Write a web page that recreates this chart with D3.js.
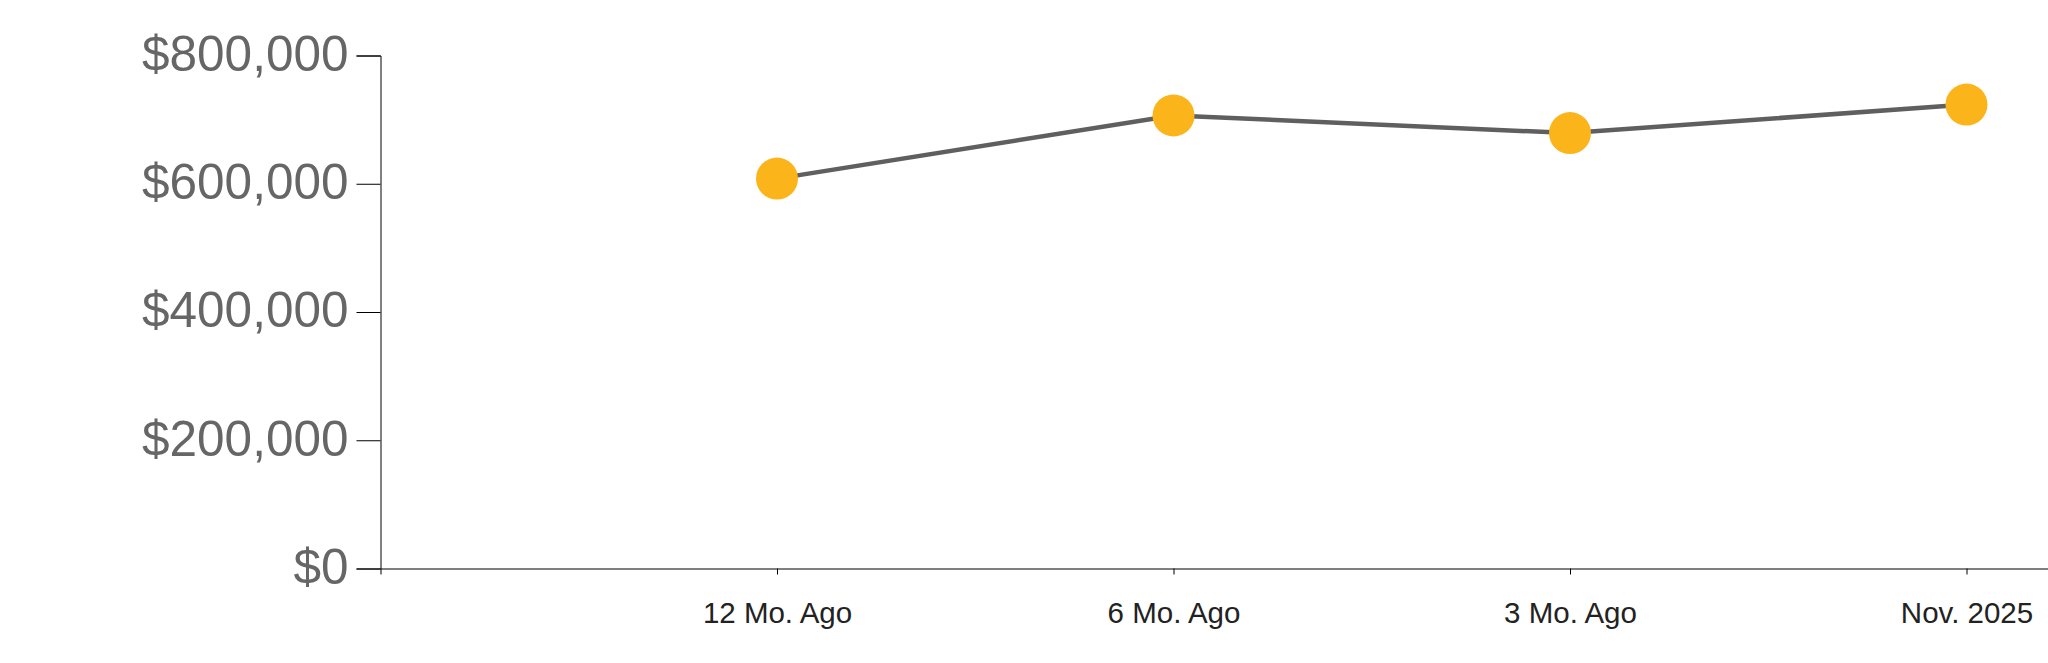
<!DOCTYPE html>
<html>
<head>
<meta charset="utf-8">
<script src="https://cdn.jsdelivr.net/npm/d3@7"></script>
<style>
  html, body { margin: 0; padding: 0; background: #fff; overflow: hidden; }
  svg { display: block; }
</style>
</head>
<body>
<svg id="chart" width="2048" height="663"></svg>
<script>
const categories = ["12 Mo. Ago", "6 Mo. Ago", "3 Mo. Ago", "Nov. 2025"];
const values = [608000, 706500, 679000, 723500];
const yTicks = [0, 200000, 400000, 600000, 800000];

const svg = d3.select("#chart");
const font = "'Liberation Sans', Arial, Helvetica, sans-serif";

const x = d3.scalePoint().domain(categories).range([380.5, 2363]).padding(1);
const y = d3.scaleLinear().domain([0, 800000]).range([568.5, 55.5]);

// Y axis
const yAxis = svg.append("g")
  .attr("transform", "translate(380.5,0)")
  .call(d3.axisLeft(y).tickValues(yTicks).tickSize(24).tickPadding(8).tickFormat(d3.format("$,")));
yAxis.selectAll("path, line").attr("stroke", "#000").attr("stroke-width", 1);
yAxis.selectAll("text")
  .attr("font-family", font)
  .attr("font-size", 49.5)
  .attr("dy", "0.3em")
  .attr("fill", "#666");

// X axis
const xAxis = svg.append("g")
  .attr("transform", "translate(0,568.5)")
  .call(d3.axisBottom(x).tickSize(6).tickSizeOuter(6).tickPadding(28));
xAxis.selectAll("path, line").attr("stroke", "#000").attr("stroke-width", 1);
xAxis.selectAll("text")
  .attr("font-family", font)
  .attr("font-size", 29.5)
  .attr("fill", "#222");

// Line
const data = categories.map((c, i) => ({ c, v: values[i] }));
svg.append("path")
  .datum(data)
  .attr("fill", "none")
  .attr("stroke", "#5f5f5f")
  .attr("stroke-width", 4.5)
  .attr("d", d3.line().x(d => x(d.c)).y(d => y(d.v)));

// Points
svg.selectAll("circle.pt")
  .data(data)
  .enter().append("circle")
  .attr("class", "pt")
  .attr("cx", d => x(d.c))
  .attr("cy", d => y(d.v))
  .attr("r", 21)
  .attr("fill", "#FBB41A");
</script>
</body>
</html>
